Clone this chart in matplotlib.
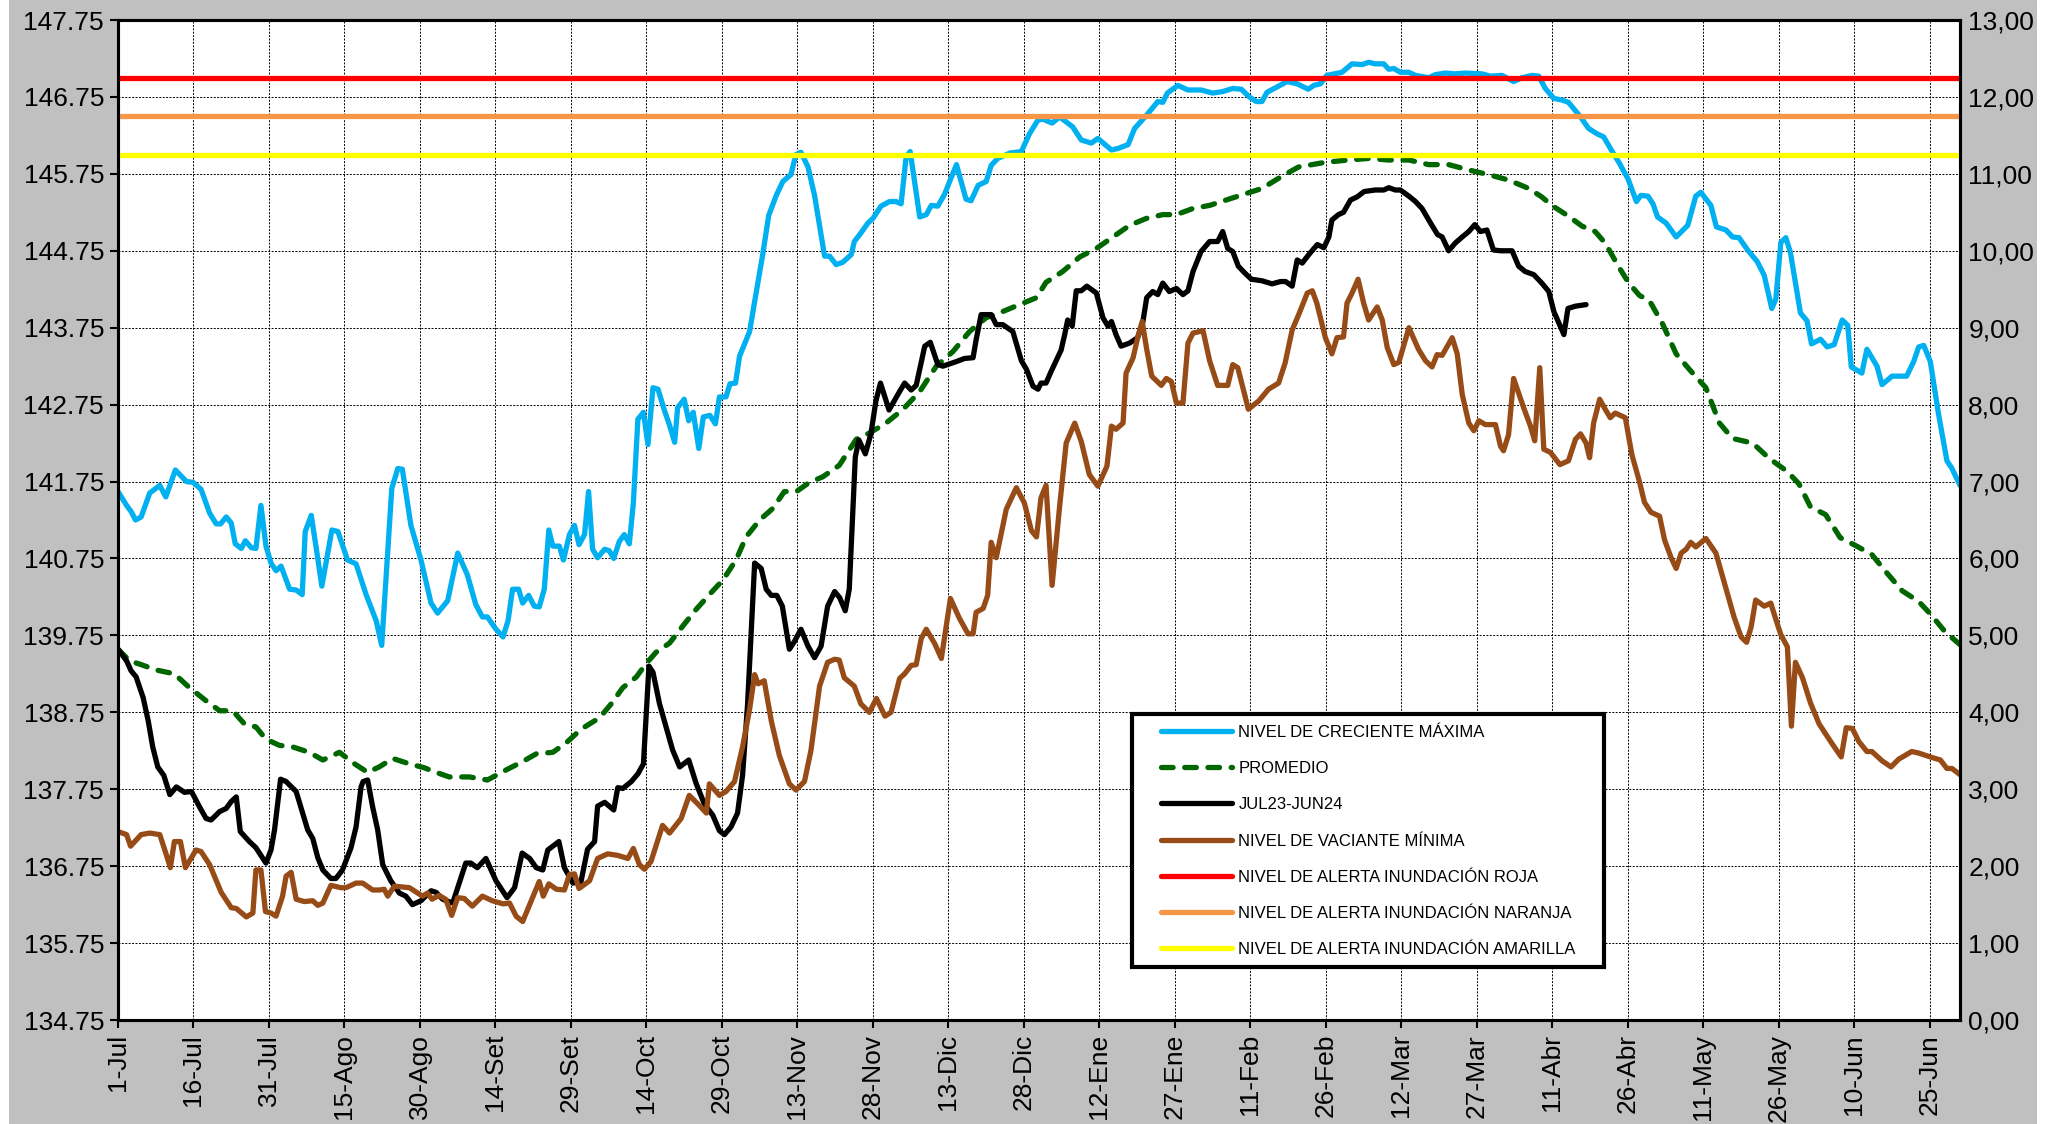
import matplotlib
matplotlib.use("Agg")
import matplotlib.pyplot as plt
from matplotlib.patches import Rectangle

plt.rcParams['font.family'] = ['Liberation Sans', 'DejaVu Sans']

# days counted from 1-Jul-2023, levels in m.s.n.m.
max_day = [0, 1.7, 2.6, 3.5, 4.6, 6.3, 8.3, 9.5, 11.4, 13.6, 14.9, 16.5, 18.2, 19.5, 20.4, 21.5, 22.5, 23.3, 24.5, 25.3,
           26.5, 27.4, 28.4, 29.4, 30.4, 31.4, 32.4, 34.1, 35.4, 36.6, 37.2, 38.4, 39.4, 40.5, 42.5, 43.7, 45.6, 47.3,
           49.3, 51.3, 52.4, 54.4, 55.6, 56.5, 58.2, 60.2, 62.2, 63.5, 65.5, 67.5, 69.4, 71.1, 72.4, 73.4, 75.1, 76.5,
           77.5, 78.4, 79.6, 80.4, 81.6, 82.7, 83.7, 84.7, 85.6, 86.4, 87.7, 88.5, 89.7, 90.7, 91.6, 92.7, 93.5, 94.3,
           95.3, 96.7, 97.6, 98.5, 99.6, 100.6, 101.6, 102.4, 103.3, 104.4, 105.3, 106.3, 107.3, 108.6, 109.6, 110.6,
           111.2, 112.5, 113.4, 114.3, 115.4, 116.3, 117.6, 118.7, 119.5, 120.8, 121.6, 122.7, 123.5, 125.5, 126.5,
           128.1, 129.3, 130.8, 132.1, 133.7, 134.7, 135.7, 137.1, 138.4, 140.4, 141.4, 142.7, 144.0, 145.7, 146.3,
           147.6, 149.0, 150.0, 151.6, 153.3, 154.6, 155.6, 156.6, 157.4, 159.3, 160.6, 161.6, 162.9, 164.2, 166.6,
           168.5, 169.5, 170.9, 172.5, 173.5, 174.8, 177.2, 179.5, 181.1, 182.8, 183.8, 185.6, 187.1, 189.7, 191.4,
           193.4, 194.7, 197.4, 198.7, 200.7, 202.0, 204.6, 206.6, 207.6, 208.5, 210.6, 212.6, 215.2, 217.5, 219.5,
           221.5, 223.2, 224.8, 226.2, 227.3, 228.3, 230.3, 232.3, 234.3, 236.5, 237.6, 238.9, 240.2, 243.2, 245.2,
           247.2, 248.5, 249.8, 251.5, 252.5, 253.5, 254.8, 256.5, 257.8, 260.4, 261.8, 263.7, 265.7, 267.7, 271.0,
           272.7, 275.0, 277.3, 279.0, 281.0, 282.3, 283.6, 285.3, 286.9, 288.2, 290.6, 292.2, 293.9, 295.2, 296.9,
           298.3, 300.0, 301.7, 302.6, 304.0, 305.0, 305.9, 307.6, 309.6, 311.9, 313.5, 314.5, 316.5, 317.6, 319.5,
           320.8, 322.1, 323.8, 325.7, 327.1, 328.6, 329.4, 330.4, 331.4, 332.3, 334.3, 335.6, 336.5, 338.3, 339.6,
           341.0, 342.6, 343.7, 344.4, 346.5, 347.5, 349.5, 350.5, 352.5, 355.4, 356.8, 357.8, 358.8, 360.1, 361.7,
           363.4, 364.4, 366]
max_level = [141.62, 141.44, 141.36, 141.25, 141.29, 141.60, 141.70, 141.55, 141.90, 141.75, 141.74, 141.65, 141.34,
             141.20, 141.20, 141.29, 141.21, 140.94, 140.88, 140.98, 140.89, 140.88, 141.44, 140.91, 140.69, 140.59,
             140.65, 140.35, 140.34, 140.28, 141.10, 141.31, 140.88, 140.39, 141.12, 141.10, 140.73, 140.68, 140.28,
             139.94, 139.62, 141.66, 141.92, 141.91, 141.18, 140.73, 140.17, 140.04, 140.20, 140.82, 140.54, 140.15,
             139.99, 139.99, 139.83, 139.73, 139.94, 140.35, 140.35, 140.17, 140.27, 140.13, 140.12, 140.35, 141.12,
             140.91, 140.91, 140.73, 141.06, 141.18, 140.93, 141.06, 141.62, 140.87, 140.76, 140.87, 140.85, 140.75,
             140.97, 141.06, 140.94, 141.47, 142.56, 142.65, 142.23, 142.97, 142.95, 142.67, 142.48, 142.26, 142.71,
             142.82, 142.54, 142.65, 142.18, 142.59, 142.61, 142.50, 142.85, 142.85, 143.02, 143.03, 143.38, 143.70,
             144.09, 144.70, 145.21, 145.47, 145.65, 145.74, 146.00, 146.03, 145.84, 145.47, 144.68, 144.68, 144.57,
             144.60, 144.70, 144.87, 144.98, 145.11, 145.17, 145.33, 145.39, 145.39, 145.36, 145.97, 146.04, 145.19,
             145.22, 145.34, 145.33, 145.48, 145.87, 145.42, 145.40, 145.60, 145.65, 145.86, 145.95, 146.02, 146.04,
             146.27, 146.45, 146.46, 146.41, 146.49, 146.36, 146.19, 146.15, 146.21, 146.06, 146.08, 146.13, 146.34,
             146.53, 146.69, 146.68, 146.80, 146.90, 146.84, 146.84, 146.80, 146.82, 146.86, 146.85, 146.75, 146.69,
             146.69, 146.81, 146.88, 146.95, 146.92, 146.85, 146.90, 146.92, 147.03, 147.07, 147.18, 147.17, 147.20,
             147.18, 147.18, 147.11, 147.12, 147.07, 147.07, 147.03, 147.00, 147.04, 147.06, 147.05, 147.06, 147.05,
             147.02, 147.03, 146.95, 147.00, 147.03, 147.02, 146.86, 146.73, 146.71, 146.68, 146.49, 146.34, 146.27,
             146.23, 146.04, 145.89, 145.69, 145.39, 145.47, 145.46, 145.36, 145.19, 145.11, 144.93, 145.08, 145.46,
             145.51, 145.34, 145.06, 145.02, 144.93, 144.92, 144.76, 144.61, 144.43, 144.00, 144.12, 144.86, 144.92,
             144.73, 143.94, 143.84, 143.54, 143.60, 143.50, 143.53, 143.85, 143.78, 143.24, 143.16, 143.47, 143.25,
             143.01, 143.12, 143.12, 143.31, 143.50, 143.52, 143.31, 142.64, 142.02, 141.92, 141.70]

avg_day = [0, 2.3, 4.6, 7.6, 11.2, 14.2, 17.5, 20.2, 22.8, 25.1, 27.4, 29.4, 32.1, 34.7, 38.0, 40.7, 44.0, 47.0, 49.6,
           51.9, 54.6, 57.9, 60.8, 63.2, 65.8, 69.8, 73.4, 77.1, 80.4, 83.1, 86.4, 89.0, 92.0, 95.7, 98.0, 100.3, 103.0,
           104.9, 106.9, 109.6, 112.2, 114.9, 117.5, 120.2, 122.8, 124.8, 127.5, 130.1, 132.4, 134.8, 137.4, 140.0,
           143.3, 146.7, 149.3, 152.6, 156.0, 159.3, 162.6, 165.9, 169.2, 172.5, 175.8, 179.1, 182.5, 184.4, 187.7,
           191.1, 194.4, 197.7, 201.0, 204.3, 207.6, 210.3, 213.6, 216.9, 220.2, 223.5, 227.3, 231.3, 234.6, 239.9,
           244.5, 248.5, 252.5, 256.5, 260.4, 264.4, 268.4, 272.3, 276.3, 280.3, 282.9, 284.9, 288.2, 290.9, 293.5,
           295.5, 298.2, 300.2, 302.3, 304.3, 306.9, 309.6, 312.2, 315.5, 318.2, 320.8, 324.8, 328.1, 331.7, 334.0,
           336.3, 339.3, 342.2, 345.2, 348.5, 351.1, 354.5, 357.8, 360.1, 363.0, 366]
avg_level = [139.57, 139.42, 139.37, 139.30, 139.25, 139.07, 138.90, 138.77, 138.77, 138.60, 138.56, 138.40, 138.32,
             138.30, 138.23, 138.13, 138.23, 138.08, 137.97, 138.04, 138.15, 138.08, 138.03, 137.97, 137.91, 137.91,
             137.87, 138.00, 138.11, 138.21, 138.23, 138.35, 138.53, 138.68, 138.86, 139.07, 139.21, 139.38, 139.53,
             139.65, 139.87, 140.09, 140.28, 140.47, 140.73, 141.03, 141.25, 141.40, 141.62, 141.62, 141.74, 141.81,
             141.96, 142.30, 142.38, 142.51, 142.69, 142.92, 143.25, 143.44, 143.70, 143.88, 143.96, 144.05, 144.14,
             144.34, 144.48, 144.67, 144.78, 144.93, 145.08, 145.17, 145.22, 145.22, 145.30, 145.34, 145.41, 145.48,
             145.56, 145.72, 145.84, 145.90, 145.93, 145.95, 145.93, 145.93, 145.87, 145.87, 145.80, 145.74, 145.67,
             145.56, 145.45, 145.34, 145.20, 145.07, 145.00, 144.85, 144.54, 144.33, 144.17, 144.10, 143.80, 143.41,
             143.21, 142.97, 142.51, 142.31, 142.25, 142.05, 141.88, 141.72, 141.42, 141.32, 141.02, 140.92, 140.80,
             140.59, 140.33, 140.19, 140.03, 139.80, 139.63]

cur_day = [0, 1.7, 2.6, 3.6, 5.0, 6.0, 6.9, 7.9, 9.1, 10.3, 11.6, 13.2, 14.6, 16.2, 17.5, 18.5, 20.2, 21.5, 22.5, 23.5,
           24.3, 26.1, 27.4, 29.4, 30.4, 31.1, 32.3, 33.4, 35.4, 36.7, 37.7, 38.7, 39.7, 40.7, 42.3, 43.3, 44.6, 46.3,
           47.3, 48.3, 48.7, 49.6, 50.6, 51.6, 52.6, 54.2, 55.9, 57.2, 58.5, 60.2, 62.2, 63.2, 64.5, 66.5, 67.5, 69.1,
           70.1, 71.4, 73.1, 75.1, 77.3, 78.8, 80.3, 81.8, 83.1, 84.4, 85.4, 87.6, 88.7, 90.4, 92.0, 93.3, 94.7, 95.3,
           96.7, 98.5, 99.3, 100.3, 102.0, 103.3, 104.4, 105.5, 106.3, 107.6, 108.9, 110.2, 111.6, 113.4, 114.9, 116.5,
           118.2, 119.5, 120.5, 121.8, 123.1, 124.1, 125.1, 126.5, 127.8, 128.8, 129.8, 130.9, 132.0, 133.4, 134.4,
           135.7, 137.1, 138.4, 139.7, 141.0, 142.4, 143.4, 144.5, 145.3, 146.5, 147.2, 148.5, 149.6, 150.6, 151.5,
           153.2, 155.3, 156.3, 157.6, 158.6, 160.3, 161.4, 162.9, 163.9, 166.6, 168.2, 169.9, 170.5, 171.5, 173.5,
           174.5, 175.8, 177.8, 179.5, 180.5, 181.8, 182.8, 183.4, 184.4, 185.4, 187.4, 188.1, 188.7, 189.6, 190.4,
           191.4, 192.5, 194.4, 195.7, 196.7, 197.4, 198.3, 199.3, 201.0, 202.6, 203.6, 204.4, 205.6, 206.6, 207.6,
           208.9, 210.3, 211.6, 212.6, 213.6, 215.2, 216.9, 218.5, 219.5, 220.5, 221.5, 222.6, 223.9, 225.2, 227.3,
           229.3, 231.0, 232.0, 233.3, 234.3, 235.3, 236.6, 238.3, 239.6, 240.6, 241.2, 242.5, 243.5, 244.9, 246.2,
           247.6, 249.8, 251.5, 252.5, 253.8, 254.8, 256.5, 257.8, 259.1, 260.8, 262.2, 263.1, 264.4, 265.7, 267.1,
           268.4, 269.6, 270.7, 272.0, 273.3, 274.7, 277.0, 278.3, 279.6, 281.3, 282.9, 284.3, 285.3, 286.3, 287.3,
           288.1, 289.6, 291.7]
cur_level = [139.57, 139.42, 139.29, 139.21, 138.94, 138.64, 138.30, 138.04, 137.93, 137.68, 137.78, 137.71, 137.72,
             137.52, 137.37, 137.35, 137.46, 137.50, 137.59, 137.65, 137.20, 137.07, 136.99, 136.79, 136.96, 137.22,
             137.88, 137.85, 137.72, 137.44, 137.22, 137.11, 136.86, 136.70, 136.59, 136.59, 136.70, 136.99, 137.26,
             137.78, 137.85, 137.87, 137.52, 137.22, 136.77, 136.56, 136.40, 136.36, 136.25, 136.30, 136.43, 136.41,
             136.32, 136.27, 136.47, 136.79, 136.79, 136.73, 136.85, 136.56, 136.34, 136.47, 136.92, 136.85, 136.73,
             136.70, 136.96, 137.07, 136.73, 136.53, 136.55, 136.97, 137.07, 137.53, 137.58, 137.48, 137.77, 137.76,
             137.85, 137.95, 138.08, 139.35, 139.27, 138.86, 138.56, 138.26, 138.04, 138.13, 137.82, 137.56, 137.41,
             137.21, 137.16, 137.26, 137.44, 137.93, 138.86, 140.69, 140.62, 140.35, 140.27, 140.27, 140.13, 139.57,
             139.67, 139.83, 139.61, 139.46, 139.61, 140.13, 140.32, 140.24, 140.07, 140.35, 142.07, 142.29, 142.11,
             142.37, 142.80, 143.03, 142.68, 142.92, 143.03, 142.94, 143.00, 143.51, 143.56, 143.27, 143.25, 143.31,
             143.35, 143.36, 143.59, 143.92, 143.92, 143.79, 143.79, 143.70, 143.32, 143.21, 142.99, 142.95, 143.03,
             143.03, 143.18, 143.46, 143.66, 143.85, 143.77, 144.23, 144.23, 144.29, 144.20, 143.88, 143.77, 143.83,
             143.66, 143.51, 143.55, 143.62, 143.81, 144.14, 144.22, 144.18, 144.33, 144.22, 144.26, 144.18, 144.23,
             144.48, 144.74, 144.87, 144.87, 145.00, 144.78, 144.74, 144.55, 144.46, 144.38, 144.36, 144.32, 144.35,
             144.35, 144.29, 144.63, 144.59, 144.70, 144.83, 144.79, 144.93, 145.15, 145.22, 145.25, 145.41, 145.45,
             145.52, 145.54, 145.54, 145.57, 145.54, 145.54, 145.46, 145.39, 145.30, 145.11, 144.96, 144.93, 144.75,
             144.85, 144.93, 145.00, 145.09, 145.00, 145.02, 144.76, 144.75, 144.75, 144.55, 144.48, 144.44, 144.33,
             144.22, 143.96, 143.81, 143.66, 144.00, 144.03, 144.05]

min_day = [0, 1.7, 2.5, 4.6, 6.3, 8.3, 9.5, 10.4, 11.2, 12.4, 13.4, 15.5, 16.5, 18.2, 20.5, 22.5, 23.5, 25.5, 26.8,
           27.4, 28.4, 29.3, 30.4, 31.4, 32.7, 33.4, 34.4, 35.4, 37.0, 38.7, 39.7, 40.7, 42.3, 44.3, 45.3, 47.3, 48.6,
           50.6, 51.9, 52.9, 53.6, 54.9, 57.9, 60.5, 61.5, 62.4, 63.8, 65.1, 66.3, 67.5, 68.8, 70.4, 72.4, 74.4, 76.5,
           77.8, 79.1, 80.4, 81.8, 83.7, 84.5, 85.6, 87.1, 88.7, 89.7, 90.7, 91.6, 93.7, 95.3, 97.3, 99.3, 101.3, 102.4,
           103.6, 104.6, 105.9, 107.6, 108.2, 109.6, 111.9, 113.5, 115.2, 116.9, 117.5, 119.5, 120.8, 122.5, 124.1,
           125.5, 126.5, 127.2, 128.4, 129.8, 131.4, 133.4, 134.7, 136.4, 137.7, 139.4, 141.0, 142.4, 143.3, 144.3,
           146.3, 147.6, 149.3, 150.7, 152.4, 153.6, 155.3, 156.3, 157.6, 158.6, 159.6, 160.6, 162.3, 163.6, 165.4,
           167.2, 168.9, 169.9, 170.5, 171.9, 172.8, 173.5, 174.5, 176.5, 178.5, 180.1, 181.5, 182.5, 183.4, 184.4,
           185.6, 187.1, 188.4, 190.1, 191.4, 193.0, 194.7, 196.5, 197.4, 198.3, 199.7, 200.3, 201.7, 202.6, 203.5,
           204.4, 205.4, 207.3, 208.3, 209.3, 210.3, 211.6, 212.6, 213.6, 215.6, 216.9, 218.5, 220.5, 221.5, 222.5,
           224.6, 226.7, 228.6, 230.6, 231.9, 233.3, 234.6, 236.3, 237.3, 238.2, 239.9, 241.2, 242.2, 243.5, 244.2,
           245.2, 246.4, 247.5, 248.5, 250.2, 251.2, 252.2, 253.5, 254.5, 256.5, 258.4, 259.8, 261.1, 262.1, 263.1,
           265.1, 266.1, 267.1, 268.4, 269.4, 270.4, 271.7, 273.7, 274.7, 275.3, 276.3, 277.3, 279.3, 280.6, 281.5,
           282.5, 283.3, 284.6, 286.5, 288.2, 289.6, 290.6, 291.7, 292.4, 293.2, 294.4, 295.5, 296.5, 297.5, 299.5,
           300.8, 302.3, 303.3, 304.6, 306.3, 307.3, 308.6, 309.6, 310.6, 311.6, 312.5, 313.5, 315.5, 317.5, 319.5,
           321.1, 322.5, 323.6, 324.5, 325.4, 327.1, 328.4, 329.4, 330.4, 331.7, 332.5, 333.3, 334.7, 336.3, 338.0,
           340.6, 342.4, 343.4, 344.6, 345.9, 347.5, 348.5, 350.5, 352.3, 353.8, 356.4, 357.8, 360.1, 362.1, 363.4,
           364.4, 366]
min_level = [137.20, 137.16, 137.01, 137.16, 137.18, 137.16, 136.92, 136.73, 137.07, 137.07, 136.73, 136.96, 136.94,
             136.77, 136.41, 136.21, 136.20, 136.09, 136.14, 136.70, 136.70, 136.16, 136.14, 136.10, 136.36, 136.62,
             136.67, 136.32, 136.29, 136.30, 136.24, 136.27, 136.50, 136.47, 136.47, 136.53, 136.53, 136.44, 136.44,
             136.45, 136.36, 136.49, 136.47, 136.36, 136.40, 136.32, 136.37, 136.32, 136.11, 136.34, 136.33, 136.23,
             136.36, 136.30, 136.26, 136.27, 136.10, 136.03, 136.25, 136.55, 136.36, 136.52, 136.45, 136.44, 136.64,
             136.65, 136.46, 136.56, 136.85, 136.91, 136.89, 136.85, 136.98, 136.77, 136.71, 136.81, 137.16, 137.28,
             137.18, 137.37, 137.67, 137.56, 137.44, 137.82, 137.67, 137.72, 137.85, 138.30, 138.79, 139.24, 139.12,
             139.16, 138.64, 138.19, 137.82, 137.74, 137.85, 138.26, 139.09, 139.40, 139.44, 139.43, 139.20, 139.09,
             138.86, 138.75, 138.93, 138.70, 138.75, 139.19, 139.25, 139.36, 139.37, 139.71, 139.83, 139.64, 139.45,
             140.23, 139.97, 139.77, 139.77, 140.05, 140.10, 140.27, 140.96, 140.76, 141.39, 141.67, 141.47, 141.11,
             141.03, 141.54, 141.70, 140.40, 141.43, 142.25, 142.51, 142.27, 141.84, 141.69, 141.95, 142.47, 142.43,
             142.51, 143.16, 143.36, 143.62, 143.83, 143.47, 143.12, 143.00, 143.09, 143.05, 142.77, 142.77, 143.55,
             143.68, 143.71, 143.32, 143.00, 143.00, 143.27, 143.23, 142.69, 142.80, 142.95, 143.03, 143.29, 143.72,
             143.92, 144.20, 144.23, 144.07, 143.62, 143.41, 143.62, 143.63, 144.07, 144.20, 144.38, 144.07, 143.85,
             144.02, 143.85, 143.49, 143.27, 143.30, 143.75, 143.47, 143.32, 143.24, 143.40, 143.39, 143.62, 143.41,
             142.88, 142.51, 142.41, 142.54, 142.49, 142.49, 142.21, 142.15, 142.36, 143.09, 142.71, 142.48, 142.28,
             143.23, 142.17, 142.13, 141.97, 142.02, 142.30, 142.37, 142.25, 142.06, 142.51, 142.82, 142.69, 142.58,
             142.64, 142.58, 142.10, 141.75, 141.48, 141.35, 141.30, 140.99, 140.76, 140.62, 140.82, 140.87, 140.96,
             140.90, 141.01, 140.82, 140.36, 139.99, 139.73, 139.66, 139.86, 140.21, 140.13, 140.17, 139.96, 139.76,
             139.60, 138.57, 139.40, 139.20, 138.87, 138.60, 138.34, 138.17, 138.55, 138.54, 138.37, 138.24, 138.24,
             138.12, 138.04, 138.14, 138.24, 138.22, 138.17, 138.13, 138.02, 138.02, 137.94]

alert_red = 147.00
alert_orange = 146.50
alert_yellow = 146.00

tick_days = list(range(0, 361, 15))
tick_labels = ['1-Jul', '16-Jul', '31-Jul', '15-Ago', '30-Ago', '14-Set', '29-Set', '14-Oct', '29-Oct', '13-Nov',
               '28-Nov', '13-Dic', '28-Dic', '12-Ene', '27-Ene', '11-Feb', '26-Feb', '12-Mar', '27-Mar', '11-Abr',
               '26-Abr', '11-May', '26-May', '10-Jun', '25-Jun']
left_ticks = [134.75 + i for i in range(14)]
right_ticks = list(range(14))

labels = ['NIVEL DE CRECIENTE MÁXIMA', 'PROMEDIO', 'JUL23-JUN24', 'NIVEL DE VACIANTE MÍNIMA',
          'NIVEL DE ALERTA INUNDACIÓN ROJA', 'NIVEL DE ALERTA INUNDACIÓN NARANJA',
          'NIVEL DE ALERTA INUNDACIÓN AMARILLA']

W, H = 2055, 1124
fig = plt.figure(figsize=(W / 100, H / 100), dpi=100, facecolor='white')
fig.patches.append(Rectangle((9 / W, 0), (2037 - 9) / W, 1, transform=fig.transFigure,
                             facecolor='#C0C0C0', edgecolor='none', zorder=-10))

ax = fig.add_axes([118 / W, 1 - 1020 / H, (1960 - 118) / W, (1020 - 20) / H])
ax.set_facecolor('white')

lw = 3.8
l1, = ax.plot(max_day, max_level, color='#00B0F0', lw=lw, solid_capstyle='round', solid_joinstyle='round')
l2, = ax.plot(avg_day, avg_level, color='#006600', lw=lw, dashes=(2.2, 2.2), dash_capstyle='round')
l3, = ax.plot(cur_day, cur_level, color='black', lw=lw, solid_capstyle='round', solid_joinstyle='round')
l4, = ax.plot(min_day, min_level, color='#974B16', lw=lw, solid_capstyle='round', solid_joinstyle='round')
l5 = ax.axhline(alert_red, color='#FF0000', lw=lw, solid_capstyle='round', zorder=3)
l6 = ax.axhline(alert_orange, color='#F79646', lw=lw, solid_capstyle='round', zorder=3)
l7 = ax.axhline(alert_yellow, color='#FFFF00', lw=lw, solid_capstyle='round', zorder=3)

ax.set_xlim(0, 366)
ax.set_ylim(134.75, 147.75)
ax.set_xticks(tick_days)
ax.set_xticklabels(tick_labels, rotation=90, fontsize=19)
ax.set_yticks(left_ticks)
ax.set_yticklabels(['%.2f' % v for v in left_ticks], fontsize=19)
ax.tick_params(axis='both', direction='out', length=6, width=1.5, pad=4)
ax.grid(True, color='black', linestyle=(0, (2, 1.5)), lw=0.7)
ax.set_axisbelow(True)
for s in ax.spines.values():
    s.set_linewidth(2.2)

ax2 = ax.twinx()
ax2.set_ylim(0, 13)
ax2.set_yticks(right_ticks)
ax2.set_yticklabels(['%d,00' % v for v in right_ticks], fontsize=19)
ax2.tick_params(axis='y', length=0, pad=6)
for s in ax2.spines.values():
    s.set_linewidth(2.2)

# legend box drawn by hand so the paddings match
box = Rectangle((1132 / W, 1 - 967 / H), (1604 - 1132) / W, (967 - 714) / H, transform=fig.transFigure,
                facecolor='white', edgecolor='black', lw=3, zorder=4)
ax2.add_patch(box)
leg = ax2.legend([l1, l2, l3, l4, l5, l6, l7], labels, loc='upper left',
                 bbox_to_anchor=(1161 / W, 1 - 725 / H), bbox_transform=fig.transFigure,
                 frameon=False, fontsize=12, handlelength=4.25, handletextpad=0.4,
                 labelspacing=1.27, borderpad=0, borderaxespad=0)
leg.set_zorder(5)

fig.savefig('out.png', dpi=100, facecolor=fig.get_facecolor())
